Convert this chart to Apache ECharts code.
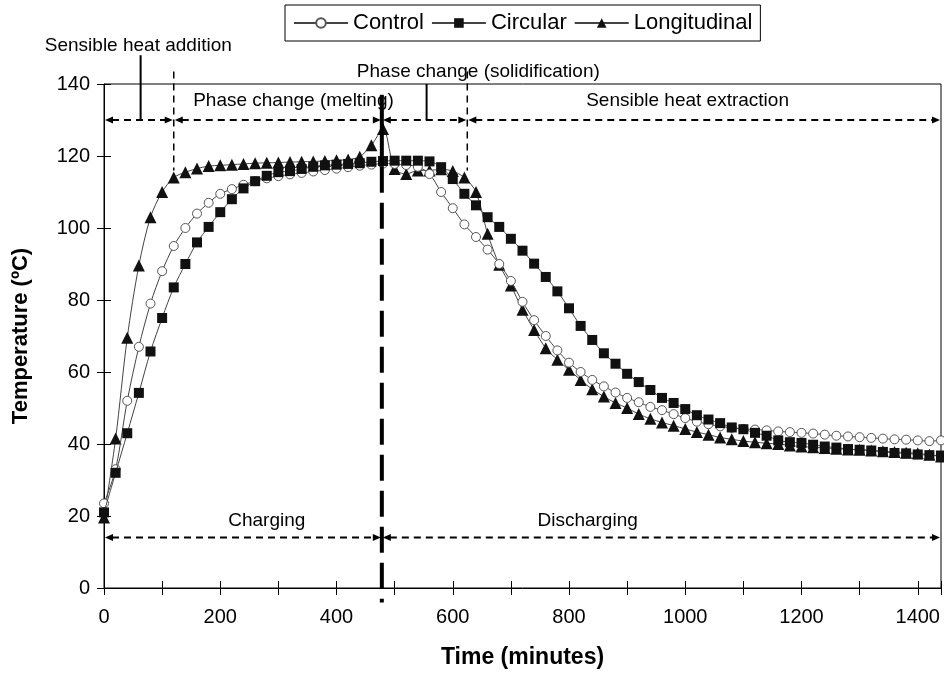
<!DOCTYPE html>
<html>
<head>
<meta charset="utf-8">
<script src="https://cdn.jsdelivr.net/npm/echarts@6/dist/echarts.min.js"></script>
<style>
html, body { margin: 0; padding: 0; background: #fff; }
#draw { width: 944px; height: 674px; }
</style>
</head>
<body>
<div id="draw"></div>
<script>
// time in minutes, one marker every 20 min
var times = [0, 20, 40, 60, 80, 100, 120, 140, 160, 180,
	200, 220, 240, 260, 280, 300, 320, 340, 360, 380,
	400, 420, 440, 460, 480, 500, 520, 540, 560, 580,
	600, 620, 640, 660, 680, 700, 720, 740, 760, 780,
	800, 820, 840, 860, 880, 900, 920, 940, 960, 980,
	1000, 1020, 1040, 1060, 1080, 1100, 1120, 1140, 1160, 1180,
	1200, 1220, 1240, 1260, 1280, 1300, 1320, 1340, 1360, 1380,
	1400, 1420, 1440];

var control = [23.5, 33, 52, 67, 79, 88, 95, 100, 104, 107,
	109.5, 110.8, 112, 113, 113.8, 114.4, 114.9, 115.3, 115.7, 116.1,
	116.5, 116.9, 117.3, 117.6, 117.9, 117.8, 117.5, 117, 115, 110,
	105.5, 101, 97.5, 94, 90, 85.3, 79.5, 74.4, 70, 66,
	62.6, 60, 57.8, 56, 54.3, 52.8, 51.6, 50.3, 49.4, 48.3,
	47.2, 46.2, 45.5, 44.9, 44.5, 44.2, 44, 43.8, 43.5, 43.3,
	43.1, 42.9, 42.6, 42.3, 42.1, 41.9, 41.7, 41.5, 41.3, 41.2,
	41, 40.8, 41];

var circular = [21, 32, 43, 54.2, 65.7, 75, 83.5, 90, 96, 100.3,
	104.4, 108, 111, 113, 114.5, 115.5, 115.8, 116.4, 117, 117.4,
	117.6, 117.8, 118, 118.4, 118.6, 118.7, 118.7, 118.7, 118.5, 116.9,
	113.6, 109.5, 106.3, 103, 100.3, 97, 93.7, 90.1, 86.4, 82.4,
	77.7, 72.8, 68.9, 65.2, 62.3, 59.5, 57.2, 55, 52.8, 51.4,
	49.7, 48, 46.8, 45.8, 44.6, 44.1, 43.1, 42.3, 41, 40.5,
	40.3, 39.8, 39.3, 39, 38.6, 38.4, 38.2, 37.8, 37.5, 37.4,
	37.1, 36.9, 36.8];

var longitudinal = [19.6, 41.5, 69.5, 89.6, 103, 110, 114, 115.5, 116.5, 117.2,
	117.4, 117.6, 117.8, 118, 118.1, 118.2, 118.3, 118.4, 118.5, 118.6,
	118.8, 119, 119.8, 123, 127.5, 116.4, 115, 116, 116, 116.3,
	115.8, 114, 110, 98.4, 89.8, 84, 77.3, 71.7, 66.6, 63.4,
	60.6, 57.8, 55.2, 53.2, 51.4, 50, 48.3, 47, 46, 45.1,
	44.2, 43.3, 42.6, 41.8, 41.3, 40.8, 40.5, 40.2, 40, 39.6,
	39.3, 39.1, 38.9, 38.7, 38.5, 38.4, 38.2, 38, 37.8, 37.6,
	37.4, 37, 36.5];

var seriesNames = ['Control', 'Circular', 'Longitudinal'];

// annotation positions (minutes / temperature)
var phaseEdges = [0, 120, 478, 625, 1440];
var loadEdges = [0, 478, 1440];
var phaseArrowTemp = 130;
var loadArrowTemp = 14;
var phaseTexts = [
	['Sensible heat addition', 59, 150.7],
	['Phase change (solidification)', 644, 143.5],
	['Phase change (melting)', 326, 135.4],
	['Sensible heat extraction', 1004, 135.4],
	['Charging', 280, 18.7],
	['Discharging', 832, 18.7]
];

var FONT = '"Liberation Sans", Arial, sans-serif';

var pairs = function(ys) {
	return times.map(function(t, i) {
		return [t, ys[i]];
	});
};

var myChart = echarts.init(document.getElementById('draw'));

var axisX = function(main) {
	return {
		type : 'value',
		min : 0,
		max : 1440,
		interval : 100,
		position : 'bottom',
		axisLine : { show : main, lineStyle : { color : '#000', width : 1 } },
		axisTick : { show : true, inside : !main, length : 7, lineStyle : { color : '#000' } },
		axisLabel : {
			show : main,
			margin : 19,
			fontSize : 20,
			fontFamily : FONT,
			color : '#000',
			formatter : function(v) {
				return v % 200 === 0 ? String(v) : '';
			}
		},
		splitLine : { show : false },
		name : main ? 'Time (minutes)' : '',
		nameLocation : 'middle',
		nameGap : 58,
		nameTextStyle : { fontSize : 23, fontWeight : 'bold', fontFamily : FONT, color : '#000' }
	};
};
var axisY = function(main) {
	return {
		type : 'value',
		min : 0,
		max : 140,
		interval : 20,
		position : 'left',
		axisLine : { show : main, lineStyle : { color : '#000', width : 1 } },
		axisTick : { show : true, inside : !main, length : 7, lineStyle : { color : '#000' } },
		axisLabel : { show : main, margin : 14, fontSize : 20, fontFamily : FONT, color : '#000' },
		splitLine : { show : false },
		name : main ? 'Temperature (ºC)' : '',
		nameLocation : 'middle',
		nameGap : 72,
		nameTextStyle : { fontSize : 22, fontWeight : 'bold', fontFamily : FONT, color : '#000' }
	};
};

var option = {
	animation : false,
	backgroundColor : '#fff',
	grid : {
		left : 104,
		right : 3,
		top : 84,
		bottom : 85,
		show : true,
		borderColor : '#000',
		borderWidth : 1
	},
	legend : {
		data : seriesNames,
		left : 285,
		top : 5,
		borderColor : '#000',
		borderWidth : 1,
		padding : [ 7, 8, 7, 8 ],
		itemWidth : 54,
		itemHeight : 12,
		itemGap : 7,
		textStyle : { fontSize : 22, fontFamily : FONT, color : '#000' }
	},
	xAxis : [ axisX(true), axisX(false) ],
	yAxis : [ axisY(true), axisY(false) ],
	series : [ {
		name : 'Control',
		type : 'line',
		data : pairs(control),
		smooth : 0.3,
		symbol : 'circle',
		symbolSize : 9,
		lineStyle : { color : '#444', width : 1 },
		itemStyle : { color : '#fff', borderColor : '#555', borderWidth : 1 },
		z : 3
	}, {
		name : 'Circular',
		type : 'line',
		data : pairs(circular),
		smooth : 0.3,
		symbol : 'rect',
		symbolSize : 10,
		lineStyle : { color : '#444', width : 1 },
		itemStyle : { color : '#111' },
		z : 4
	}, {
		name : 'Longitudinal',
		type : 'line',
		data : pairs(longitudinal),
		smooth : 0.3,
		symbol : 'triangle',
		symbolSize : 12,
		lineStyle : { color : '#444', width : 1 },
		itemStyle : { color : '#111' },
		z : 2
	} ]
};
myChart.setOption(option);

// annotations: phase arrows, divider lines and labels
var px = function(t, v) {
	return myChart.convertToPixel({ gridIndex : 0 }, [ t, v ]);
};
var g = [];
var seg = function(a, b, w, dash) {
	g.push({
		type : 'line',
		shape : { x1 : a[0], y1 : a[1], x2 : b[0], y2 : b[1] },
		style : { stroke : '#000', lineWidth : w, lineDash : dash || null },
		z : 100
	});
};
var head = function(p, dir) {
	g.push({
		type : 'polygon',
		shape : { points : [ [ p[0], p[1] ], [ p[0] - dir * 8, p[1] - 3.5 ], [ p[0] - dir * 8, p[1] + 3.5 ] ] },
		style : { fill : '#000' },
		z : 100
	});
};
var dashArrow = function(t0, t1, v) {
	var a = px(t0, v), b = px(t1, v);
	a[0] += 1; b[0] -= 1;
	seg([ a[0] + 7, a[1] ], [ b[0] - 7, b[1] ], 2, [ 7, 5 ]);
	head(a, -1);
	head(b, 1);
};
for (var i = 0; i < phaseEdges.length - 1; i++) {
	dashArrow(phaseEdges[i], phaseEdges[i + 1], phaseArrowTemp);
}
for (var j = 0; j < loadEdges.length - 1; j++) {
	dashArrow(loadEdges[j], loadEdges[j + 1], loadArrowTemp);
}
// thin dashed dividers between phases
seg(px(120, 143.5), px(120, 116), 1.5, [ 7, 5 ]);
seg(px(625, 143.5), px(625, 116), 1.5, [ 7, 5 ]);
// pointer lines from labels
seg(px(63, 148), px(63, 130), 2);
seg(px(555, 140), px(555, 130), 2);
// charging / discharging boundary
seg(px(478, 137), px(478, 117), 4);
seg(px(478, 117), px(478, -4), 4, [ 26, 10 ]);

phaseTexts.forEach(function(d) {
	var p = px(d[1], d[2]);
	g.push({
		type : 'text',
		x : p[0],
		y : p[1],
		style : {
			text : d[0],
			fill : '#000',
			font : '19px ' + FONT,
			align : 'center',
			verticalAlign : 'middle'
		},
		z : 100
	});
});
myChart.setOption({ graphic : g });
</script>
</body>
</html>
